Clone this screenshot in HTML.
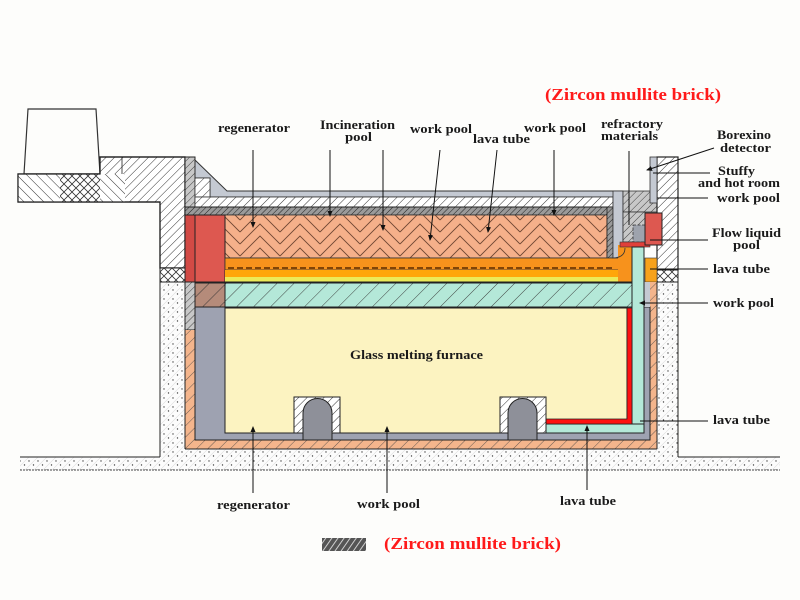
<!DOCTYPE html>
<html><head><meta charset="utf-8"><style>
html,body{margin:0;padding:0;background:#fdfdfb;}
svg{display:block;}
text{font-family:"Liberation Serif","DejaVu Serif",serif;font-weight:bold;fill:#1a1a1a;}
</style></head><body>
<svg width="800" height="600" viewBox="0 0 800 600" xmlns="http://www.w3.org/2000/svg">
<defs>
<pattern id="hatch" width="6" height="6" patternUnits="userSpaceOnUse" patternTransform="rotate(45)">
<rect width="6" height="6" fill="#fff"/><line x1="0" y1="0" x2="0" y2="6" stroke="#333" stroke-width="1"/></pattern>
<pattern id="hatchB" width="7" height="7" patternUnits="userSpaceOnUse" patternTransform="rotate(-45)">
<rect width="7" height="7" fill="#fff"/><line x1="0" y1="0" x2="0" y2="7" stroke="#333" stroke-width="1"/></pattern>
<pattern id="hatchD" width="4" height="4" patternUnits="userSpaceOnUse" patternTransform="rotate(45)">
<rect width="4" height="4" fill="#9a9a9a"/><line x1="0" y1="0" x2="0" y2="4" stroke="#222" stroke-width="1"/></pattern>
<pattern id="hatchG" width="5" height="5" patternUnits="userSpaceOnUse" patternTransform="rotate(45)">
<rect width="5" height="5" fill="#c8c8c8"/><line x1="0" y1="0" x2="0" y2="5" stroke="#333" stroke-width="0.9"/></pattern>
<pattern id="cross" width="8" height="8" patternUnits="userSpaceOnUse">
<rect width="8" height="8" fill="#fff"/><path d="M0,8 L8,0 M0,0 L8,8" stroke="#333" stroke-width="0.8"/></pattern>
<pattern id="teal" width="12" height="12" patternUnits="userSpaceOnUse" patternTransform="rotate(45)">
<rect width="12" height="12" fill="#b4e8d8"/><line x1="0" y1="0" x2="0" y2="12" stroke="#333" stroke-width="0.9"/></pattern>
<pattern id="brown" width="12" height="12" patternUnits="userSpaceOnUse" patternTransform="rotate(45)">
<rect width="12" height="12" fill="#b58b7a"/><line x1="0" y1="0" x2="0" y2="12" stroke="#333" stroke-width="0.9"/></pattern>
<pattern id="oh" width="8" height="8" patternUnits="userSpaceOnUse" patternTransform="rotate(45)">
<rect width="8" height="8" fill="#f4b58c"/><line x1="0" y1="0" x2="0" y2="8" stroke="#444" stroke-width="0.8"/></pattern>
<pattern id="herr" width="40" height="12" patternUnits="userSpaceOnUse">
<rect width="40" height="12" fill="#f5b08a"/>
<path d="M0,16 L20,-4 L40,16 M0,28 L20,8 L40,28 M0,4 L20,-16 L40,4" fill="none" stroke="#6e4632" stroke-width="0.9"/></pattern>
<pattern id="dots" width="9" height="9" patternUnits="userSpaceOnUse">
<rect width="9" height="9" fill="#fcfcfc"/><line x1="0" y1="9" x2="9" y2="0" stroke="#ddd" stroke-width="0.6"/>
<circle cx="2" cy="2" r="0.7" fill="#444"/><circle cx="6.5" cy="6" r="0.7" fill="#444"/></pattern>
<pattern id="leg" width="5" height="5" patternUnits="userSpaceOnUse" patternTransform="rotate(35)">
<rect width="5" height="5" fill="#555"/><line x1="0" y1="0" x2="0" y2="5" stroke="#ddd" stroke-width="1.8"/></pattern>
<marker id="ah" markerWidth="6" markerHeight="6" refX="5" refY="3" orient="auto" markerUnits="userSpaceOnUse">
<path d="M0,0.5 L6,3 L0,5.5 Z" fill="#111"/></marker>
</defs>

<!-- ground dotted region -->
<path d="M20,457 L160,457 L160,282 L185,282 L185,449 L657,449 L657,282 L678,282 L678,457 L780,457 L780,470 L20,470 Z" fill="url(#dots)"/>
<line x1="20" y1="457" x2="160" y2="457" stroke="#222"/>
<line x1="678" y1="457" x2="780" y2="457" stroke="#222"/>
<line x1="20" y1="470" x2="780" y2="470" stroke="#444" stroke-dasharray="2,1"/>
<line x1="160" y1="202" x2="160" y2="457" stroke="#222"/>
<line x1="678" y1="282" x2="678" y2="457" stroke="#222"/>

<!-- left upper masonry -->
<polygon points="28,109 96,109 100,174 24,174" fill="#fdfdfb" stroke="#333" stroke-width="1.2"/>
<polygon points="18,174 100,174 100,157 185,157 185,268 160,268 160,202 18,202" fill="url(#hatch)" stroke="#222" stroke-width="1.2"/>
<rect x="18" y="174" width="42" height="28" fill="url(#hatchB)"/>
<rect x="60" y="174" width="40" height="28" fill="url(#cross)"/>
<rect x="100" y="174" width="25" height="28" fill="url(#hatchB)"/>
<polygon points="18,174 100,174 100,157 185,157 185,268 160,268 160,202 18,202" fill="none" stroke="#222" stroke-width="1.2"/>
<line x1="122" y1="157" x2="122" y2="174" stroke="#222" stroke-width="0.8"/>
<rect x="160" y="268" width="25" height="14" fill="url(#cross)" stroke="#222"/>
<rect x="185" y="157" width="10" height="58" fill="url(#hatchG)" stroke="#222"/>
<rect x="185" y="282" width="10" height="48" fill="url(#hatchG)" stroke="#222"/>

<!-- roof -->
<polygon points="195,160 227,191 623,191 623,197 210,197 210,178 195,178" fill="#c4c9d2" stroke="#333" stroke-width="1"/>
<rect x="195" y="178" width="15" height="19" fill="url(#hatch)" stroke="#333" stroke-width="0.8"/>
<rect x="195" y="197" width="418" height="10" fill="url(#hatch)" stroke="#333" stroke-width="0.8"/>
<rect x="185" y="207" width="428" height="8" fill="url(#hatchD)" stroke="#222"/>

<!-- herringbone -->
<rect x="225" y="215" width="382" height="43" fill="url(#herr)" stroke="#333" stroke-width="0.8"/>
<rect x="607" y="207" width="6" height="51" fill="url(#hatchD)" stroke="#222" stroke-width="0.8"/>
<rect x="613" y="191" width="10" height="67" fill="#c4c9d2" stroke="#333" stroke-width="0.8"/>

<!-- red block left -->
<rect x="185" y="215" width="10" height="67" fill="#d24a45" stroke="#222"/>
<rect x="195" y="215" width="30" height="67" fill="#dd5850" stroke="#222"/>

<!-- orange / yellow bands -->
<rect x="225" y="258" width="408" height="12" fill="#f7921c" stroke="#333" stroke-width="0.8"/>
<line x1="228" y1="268" x2="612" y2="268" stroke="#5a2a00" stroke-width="1.6" stroke-dasharray="6,3"/>
<rect x="225" y="270" width="408" height="7" fill="#ffa60a"/>
<rect x="225" y="277" width="408" height="5" fill="#ecea58"/>
<rect x="618" y="245" width="15" height="37" fill="#f7921c"/>
<path d="M612,258 Q625,258 625,248" fill="none" stroke="#333" stroke-width="0.8"/>
<line x1="225" y1="282" x2="633" y2="282" stroke="#222" stroke-width="1"/>

<!-- refractory / right top -->
<rect x="623" y="191" width="34" height="21" fill="url(#hatchG)" stroke="#333" stroke-width="0.8"/>
<rect x="623" y="212" width="22" height="30" fill="url(#hatchG)" stroke="#333" stroke-width="0.8"/>
<rect x="633" y="225" width="15" height="17" fill="#9ea3ad" stroke="#333" stroke-width="0.8" stroke-dasharray="3,1.5"/>
<rect x="620" y="242" width="30" height="5" fill="#e0403a" stroke="#333" stroke-width="0.6"/>
<rect x="657" y="157" width="21" height="113" fill="url(#hatch)" stroke="#222" stroke-width="1.2"/>
<rect x="657" y="270" width="21" height="12" fill="url(#cross)" stroke="#222"/>
<rect x="650" y="157" width="7" height="46" fill="#c4c9d2" stroke="#333" stroke-width="0.8"/>
<rect x="645" y="213" width="17" height="32" fill="#dd5850" stroke="#222"/>
<rect x="645" y="258" width="12" height="24" fill="#f7a21c" stroke="#333" stroke-width="0.6"/>

<!-- lower layers -->
<rect x="185" y="330" width="472" height="119" fill="url(#oh)"/>
<rect x="650" y="282" width="7" height="167" fill="url(#oh)"/>
<rect x="195" y="307" width="455" height="133" fill="#9ea2b1" stroke="#222"/>
<rect x="644" y="282" width="6" height="25" fill="#c4c9d2"/>
<rect x="195" y="283" width="30" height="24" fill="url(#brown)" stroke="#222"/>
<rect x="225" y="283" width="408" height="24" fill="url(#teal)" stroke="#222"/>
<rect x="225" y="308" width="402" height="125" fill="#fcf3c1" stroke="#222"/>
<!-- teal column and red L -->
<rect x="632" y="247" width="12" height="186" fill="#b4e8d8" stroke="#222"/>
<rect x="546" y="424" width="98" height="9" fill="#b4e8d8" stroke="#222"/>
<path d="M627,308 L632,308 L632,424 L546,424 L546,419 L627,419 Z" fill="#ff1010" stroke="#222" stroke-width="0.8"/>
<line x1="185" y1="449" x2="657" y2="449" stroke="#222"/>
<line x1="185" y1="330" x2="185" y2="449" stroke="#222"/>
<line x1="657" y1="282" x2="657" y2="449" stroke="#222"/>

<!-- bumps -->
<rect x="294" y="397" width="46" height="36" fill="url(#hatch)" stroke="#222"/>
<path d="M303,440 L303,413 A14.5,14.5 0 0 1 332,413 L332,440 Z" fill="#8e9099" stroke="#222"/>
<rect x="500" y="397" width="46" height="36" fill="url(#hatch)" stroke="#222"/>
<path d="M508,440 L508,413 A14.5,14.5 0 0 1 537,413 L537,440 Z" fill="#8e9099" stroke="#222"/>

<!-- leader lines -->
<g stroke="#111" stroke-width="1" fill="none">
<line x1="253" y1="150" x2="253" y2="227" marker-end="url(#ah)"/>
<line x1="330" y1="150" x2="330" y2="216" marker-end="url(#ah)"/>
<line x1="383" y1="150" x2="383" y2="230" marker-end="url(#ah)"/>
<line x1="440" y1="150" x2="430" y2="240" marker-end="url(#ah)"/>
<line x1="497" y1="150" x2="488" y2="232" marker-end="url(#ah)"/>
<line x1="554" y1="150" x2="554" y2="215" marker-end="url(#ah)"/>
<line x1="629" y1="151" x2="629" y2="225"/>
<line x1="714" y1="148" x2="647" y2="170" marker-end="url(#ah)"/>
<line x1="710" y1="173" x2="653" y2="173"/>
<line x1="708" y1="198" x2="657" y2="198"/>
<line x1="708" y1="240" x2="650" y2="240"/>
<line x1="708" y1="269" x2="650" y2="269"/>
<line x1="708" y1="303" x2="640" y2="303" marker-end="url(#ah)"/>
<line x1="708" y1="421" x2="640" y2="421"/>
<line x1="253" y1="493" x2="253" y2="427" marker-end="url(#ah)"/>
<line x1="387" y1="493" x2="387" y2="427" marker-end="url(#ah)"/>
<line x1="587" y1="490" x2="587" y2="426" marker-end="url(#ah)"/>
</g>

<!-- labels -->
<g font-size="13">
<text x="218" y="132" textLength="72" lengthAdjust="spacingAndGlyphs">regenerator</text>
<text x="320" y="129" textLength="75" lengthAdjust="spacingAndGlyphs">Incineration</text>
<text x="345" y="141" textLength="27" lengthAdjust="spacingAndGlyphs">pool</text>
<text x="410" y="133" textLength="62" lengthAdjust="spacingAndGlyphs">work pool</text>
<text x="473" y="143" textLength="57" lengthAdjust="spacingAndGlyphs">lava tube</text>
<text x="524" y="132" textLength="62" lengthAdjust="spacingAndGlyphs">work pool</text>
<text x="601" y="128" textLength="62" lengthAdjust="spacingAndGlyphs">refractory</text>
<text x="601" y="140" textLength="57" lengthAdjust="spacingAndGlyphs">materials</text>
<text x="717" y="139" textLength="54" lengthAdjust="spacingAndGlyphs">Borexino</text>
<text x="720" y="152" textLength="51" lengthAdjust="spacingAndGlyphs">detector</text>
<text x="718" y="175" textLength="37" lengthAdjust="spacingAndGlyphs">Stuffy</text>
<text x="698" y="187" textLength="82" lengthAdjust="spacingAndGlyphs">and hot room</text>
<text x="717" y="202" textLength="63" lengthAdjust="spacingAndGlyphs">work pool</text>
<text x="712" y="237" textLength="69" lengthAdjust="spacingAndGlyphs">Flow liquid</text>
<text x="733" y="249" textLength="27" lengthAdjust="spacingAndGlyphs">pool</text>
<text x="713" y="273" textLength="57" lengthAdjust="spacingAndGlyphs">lava tube</text>
<text x="713" y="307" textLength="61" lengthAdjust="spacingAndGlyphs">work pool</text>
<text x="713" y="424" textLength="57" lengthAdjust="spacingAndGlyphs">lava tube</text>
<text x="350" y="359" textLength="133" lengthAdjust="spacingAndGlyphs">Glass melting furnace</text>
<text x="217" y="509" textLength="73" lengthAdjust="spacingAndGlyphs">regenerator</text>
<text x="357" y="508" textLength="63" lengthAdjust="spacingAndGlyphs">work pool</text>
<text x="560" y="505" textLength="56" lengthAdjust="spacingAndGlyphs">lava tube</text>
</g>
<text x="545" y="100" font-size="17" style="fill:#ff1a1a" textLength="176" lengthAdjust="spacingAndGlyphs">(Zircon mullite brick)</text>
<rect x="322" y="538" width="44" height="13" fill="url(#leg)"/>
<text x="384" y="549" font-size="17" style="fill:#ff1a1a" textLength="177" lengthAdjust="spacingAndGlyphs">(Zircon mullite brick)</text>
</svg>
</body></html>
